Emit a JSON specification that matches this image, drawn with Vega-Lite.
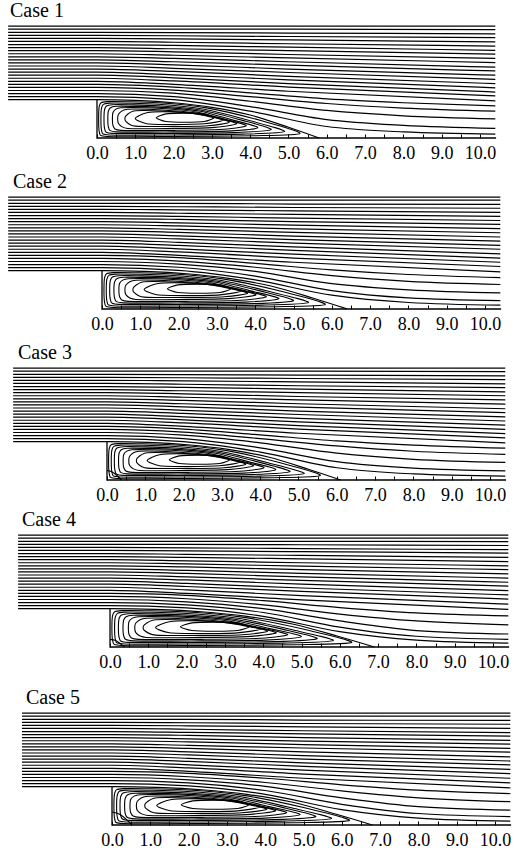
{
"$schema":"https://vega.github.io/schema/vega-lite/v6.json",
"padding":{"left":5,"top":0,"right":0,"bottom":0},
"background":"white",
"config":{"view":{"stroke":null},"concat":{"spacing":0},
"axis":{"domain":false,"grid":false,"tickSize":4,"tickColor":"#000","tickWidth":1,"labelFont":"Liberation Serif","labelFontSize":18,"labelColor":"#000","labelPadding":6,"labelOverlap":false,"labelFlush":false,"title":null},
"title":{"anchor":"start","font":"Liberation Serif","fontSize":20,"fontWeight":"normal","color":"#000","offset":3}},
"datasets":{
"w":[{"x":0,"y":1},{"x":0,"y":0},{"x":10.42,"y":0}],
"u1":[
{"g":0,"x":-2.32,"y":1},{"g":0,"x":0,"y":1},{"g":0,"x":1,"y":0.98},{"g":0,"x":2,"y":0.92},{"g":0,"x":3,"y":0.8},{"g":0,"x":4,"y":0.6},{"g":0,"x":5,"y":0.28},{"g":0,"x":5.8,"y":0},
{"g":1,"x":-2.32,"y":1.08},{"g":1,"x":0,"y":1.08},{"g":1,"x":2,"y":1.0},{"g":1,"x":4,"y":0.7},{"g":1,"x":6,"y":0.3},{"g":1,"x":8,"y":0.16},{"g":1,"x":10.4,"y":0.1},
{"g":2,"x":-2.32,"y":1.16},{"g":2,"x":0,"y":1.16},{"g":2,"x":2,"y":1.08},{"g":2,"x":4,"y":0.82},{"g":2,"x":6,"y":0.48},{"g":2,"x":8,"y":0.33},{"g":2,"x":10.4,"y":0.25},
{"g":3,"x":-2.32,"y":1.24},{"g":3,"x":0,"y":1.24},{"g":3,"x":2,"y":1.17},{"g":3,"x":4,"y":0.96},{"g":3,"x":6,"y":0.72},{"g":3,"x":8,"y":0.58},{"g":3,"x":10.4,"y":0.5},
{"g":4,"x":-2.32,"y":1.32},{"g":4,"x":0,"y":1.32},{"g":4,"x":2,"y":1.25},{"g":4,"x":4,"y":1.08},{"g":4,"x":6,"y":0.9},{"g":4,"x":8,"y":0.78},{"g":4,"x":10.4,"y":0.7},
{"g":5,"x":-2.32,"y":1.4},{"g":5,"x":0,"y":1.4},{"g":5,"x":2,"y":1.33},{"g":5,"x":4,"y":1.18},{"g":5,"x":6,"y":1.02},{"g":5,"x":8,"y":0.92},{"g":5,"x":10.4,"y":0.84},
{"g":6,"x":-2.32,"y":1.48},{"g":6,"x":0,"y":1.48},{"g":6,"x":2,"y":1.4},{"g":6,"x":5,"y":1.22},{"g":6,"x":10.4,"y":0.97},
{"g":7,"x":-2.32,"y":1.56},{"g":7,"x":0,"y":1.56},{"g":7,"x":2,"y":1.49},{"g":7,"x":5,"y":1.33},{"g":7,"x":10.4,"y":1.1},
{"g":8,"x":-2.32,"y":1.64},{"g":8,"x":0,"y":1.64},{"g":8,"x":2,"y":1.57},{"g":8,"x":5,"y":1.42},{"g":8,"x":10.4,"y":1.2},
{"g":9,"x":-2.32,"y":1.72},{"g":9,"x":0,"y":1.72},{"g":9,"x":2,"y":1.65},{"g":9,"x":5,"y":1.52},{"g":9,"x":10.4,"y":1.31},
{"g":10,"x":-2.32,"y":1.8},{"g":10,"x":0,"y":1.8},{"g":10,"x":2,"y":1.74},{"g":10,"x":5,"y":1.61},{"g":10,"x":10.4,"y":1.42},
{"g":11,"x":-2.32,"y":1.88},{"g":11,"x":0,"y":1.88},{"g":11,"x":2,"y":1.82},{"g":11,"x":5,"y":1.71},{"g":11,"x":10.4,"y":1.53},
{"g":12,"x":-2.32,"y":1.96},{"g":12,"x":0,"y":1.96},{"g":12,"x":2,"y":1.91},{"g":12,"x":5,"y":1.8},{"g":12,"x":10.4,"y":1.64},
{"g":13,"x":-2.32,"y":2.04},{"g":13,"x":0,"y":2.04},{"g":13,"x":2,"y":1.99},{"g":13,"x":5,"y":1.9},{"g":13,"x":10.4,"y":1.75},
{"g":14,"x":-2.32,"y":2.12},{"g":14,"x":0,"y":2.12},{"g":14,"x":2,"y":2.08},{"g":14,"x":5,"y":1.99},{"g":14,"x":10.4,"y":1.85},
{"g":15,"x":-2.32,"y":2.2},{"g":15,"x":0,"y":2.2},{"g":15,"x":2,"y":2.16},{"g":15,"x":5,"y":2.09},{"g":15,"x":10.4,"y":1.97},
{"g":16,"x":-2.32,"y":2.28},{"g":16,"x":0,"y":2.28},{"g":16,"x":2,"y":2.25},{"g":16,"x":5,"y":2.18},{"g":16,"x":10.4,"y":2.08},
{"g":17,"x":-2.32,"y":2.36},{"g":17,"x":0,"y":2.36},{"g":17,"x":2,"y":2.33},{"g":17,"x":5,"y":2.28},{"g":17,"x":10.4,"y":2.19},
{"g":18,"x":-2.32,"y":2.44},{"g":18,"x":0,"y":2.44},{"g":18,"x":2,"y":2.42},{"g":18,"x":5,"y":2.37},{"g":18,"x":10.4,"y":2.29},
{"g":19,"x":-2.32,"y":2.52},{"g":19,"x":0,"y":2.52},{"g":19,"x":2,"y":2.5},{"g":19,"x":5,"y":2.46},{"g":19,"x":10.4,"y":2.4},
{"g":20,"x":-2.32,"y":2.6},{"g":20,"x":0,"y":2.6},{"g":20,"x":2,"y":2.59},{"g":20,"x":5,"y":2.56},{"g":20,"x":10.4,"y":2.51},
{"g":21,"x":-2.32,"y":2.68},{"g":21,"x":0,"y":2.68},{"g":21,"x":2,"y":2.67},{"g":21,"x":5,"y":2.65},{"g":21,"x":10.4,"y":2.62},
{"g":22,"x":-2.32,"y":2.76},{"g":22,"x":0,"y":2.76},{"g":22,"x":2,"y":2.75},{"g":22,"x":5,"y":2.74},{"g":22,"x":10.4,"y":2.72},
{"g":23,"x":-2.32,"y":2.84},{"g":23,"x":0,"y":2.84},{"g":23,"x":2,"y":2.84},{"g":23,"x":5,"y":2.84},{"g":23,"x":10.4,"y":2.83},
{"g":24,"x":-2.32,"y":2.92},{"g":24,"x":0,"y":2.92},{"g":24,"x":2,"y":2.92},{"g":24,"x":5,"y":2.92},{"g":24,"x":10.4,"y":2.92}
],
"u2":[
{"g":0,"x":-2.45,"y":1},{"g":0,"x":0,"y":1},{"g":0,"x":1.1,"y":0.98},{"g":0,"x":2.21,"y":0.92},{"g":0,"x":3.31,"y":0.8},{"g":0,"x":4.41,"y":0.6},{"g":0,"x":5.52,"y":0.28},{"g":0,"x":6.4,"y":0},
{"g":1,"x":-2.45,"y":1.08},{"g":1,"x":0,"y":1.08},{"g":1,"x":2,"y":1.01},{"g":1,"x":4,"y":0.76},{"g":1,"x":6,"y":0.36},{"g":1,"x":8,"y":0.17},{"g":1,"x":10.4,"y":0.1},
{"g":2,"x":-2.45,"y":1.16},{"g":2,"x":0,"y":1.16},{"g":2,"x":2,"y":1.09},{"g":2,"x":4,"y":0.86},{"g":2,"x":6,"y":0.48},{"g":2,"x":8,"y":0.29},{"g":2,"x":10.4,"y":0.22},
{"g":3,"x":-2.45,"y":1.24},{"g":3,"x":0,"y":1.24},{"g":3,"x":2,"y":1.17},{"g":3,"x":4,"y":0.98},{"g":3,"x":6,"y":0.66},{"g":3,"x":8,"y":0.5},{"g":3,"x":10.4,"y":0.42},
{"g":4,"x":-2.45,"y":1.32},{"g":4,"x":0,"y":1.32},{"g":4,"x":2,"y":1.25},{"g":4,"x":4,"y":1.09},{"g":4,"x":6,"y":0.87},{"g":4,"x":8,"y":0.72},{"g":4,"x":10.4,"y":0.64},
{"g":5,"x":-2.45,"y":1.4},{"g":5,"x":0,"y":1.4},{"g":5,"x":2,"y":1.34},{"g":5,"x":4,"y":1.19},{"g":5,"x":6,"y":1.02},{"g":5,"x":8,"y":0.9},{"g":5,"x":10.4,"y":0.82},
{"g":6,"x":-2.45,"y":1.48},{"g":6,"x":0,"y":1.48},{"g":6,"x":2,"y":1.4},{"g":6,"x":5,"y":1.22},{"g":6,"x":10.4,"y":0.97},
{"g":7,"x":-2.45,"y":1.56},{"g":7,"x":0,"y":1.56},{"g":7,"x":2,"y":1.49},{"g":7,"x":5,"y":1.33},{"g":7,"x":10.4,"y":1.11},
{"g":8,"x":-2.45,"y":1.64},{"g":8,"x":0,"y":1.64},{"g":8,"x":2,"y":1.57},{"g":8,"x":5,"y":1.43},{"g":8,"x":10.4,"y":1.22},
{"g":9,"x":-2.45,"y":1.72},{"g":9,"x":0,"y":1.72},{"g":9,"x":2,"y":1.66},{"g":9,"x":5,"y":1.53},{"g":9,"x":10.4,"y":1.33},
{"g":10,"x":-2.45,"y":1.8},{"g":10,"x":0,"y":1.8},{"g":10,"x":2,"y":1.74},{"g":10,"x":5,"y":1.62},{"g":10,"x":10.4,"y":1.44},
{"g":11,"x":-2.45,"y":1.88},{"g":11,"x":0,"y":1.88},{"g":11,"x":2,"y":1.83},{"g":11,"x":5,"y":1.72},{"g":11,"x":10.4,"y":1.56},
{"g":12,"x":-2.45,"y":1.96},{"g":12,"x":0,"y":1.96},{"g":12,"x":2,"y":1.91},{"g":12,"x":5,"y":1.81},{"g":12,"x":10.4,"y":1.66},
{"g":13,"x":-2.45,"y":2.04},{"g":13,"x":0,"y":2.04},{"g":13,"x":2,"y":2.0},{"g":13,"x":5,"y":1.9},{"g":13,"x":10.4,"y":1.77},
{"g":14,"x":-2.45,"y":2.12},{"g":14,"x":0,"y":2.12},{"g":14,"x":2,"y":2.08},{"g":14,"x":5,"y":2.0},{"g":14,"x":10.4,"y":1.88},
{"g":15,"x":-2.45,"y":2.2},{"g":15,"x":0,"y":2.2},{"g":15,"x":2,"y":2.17},{"g":15,"x":5,"y":2.09},{"g":15,"x":10.4,"y":1.99},
{"g":16,"x":-2.45,"y":2.28},{"g":16,"x":0,"y":2.28},{"g":16,"x":2,"y":2.25},{"g":16,"x":5,"y":2.19},{"g":16,"x":10.4,"y":2.1},
{"g":17,"x":-2.45,"y":2.36},{"g":17,"x":0,"y":2.36},{"g":17,"x":2,"y":2.34},{"g":17,"x":5,"y":2.28},{"g":17,"x":10.4,"y":2.21},
{"g":18,"x":-2.45,"y":2.44},{"g":18,"x":0,"y":2.44},{"g":18,"x":2,"y":2.42},{"g":18,"x":5,"y":2.37},{"g":18,"x":10.4,"y":2.31},
{"g":19,"x":-2.45,"y":2.52},{"g":19,"x":0,"y":2.52},{"g":19,"x":2,"y":2.5},{"g":19,"x":5,"y":2.47},{"g":19,"x":10.4,"y":2.42},
{"g":20,"x":-2.45,"y":2.6},{"g":20,"x":0,"y":2.6},{"g":20,"x":2,"y":2.59},{"g":20,"x":5,"y":2.56},{"g":20,"x":10.4,"y":2.52},
{"g":21,"x":-2.45,"y":2.68},{"g":21,"x":0,"y":2.68},{"g":21,"x":2,"y":2.67},{"g":21,"x":5,"y":2.65},{"g":21,"x":10.4,"y":2.63},
{"g":22,"x":-2.45,"y":2.76},{"g":22,"x":0,"y":2.76},{"g":22,"x":2,"y":2.76},{"g":22,"x":5,"y":2.74},{"g":22,"x":10.4,"y":2.73},
{"g":23,"x":-2.45,"y":2.84},{"g":23,"x":0,"y":2.84},{"g":23,"x":2,"y":2.84},{"g":23,"x":5,"y":2.84},{"g":23,"x":10.4,"y":2.84},
{"g":24,"x":-2.45,"y":2.92},{"g":24,"x":0,"y":2.92},{"g":24,"x":2,"y":2.92},{"g":24,"x":5,"y":2.92},{"g":24,"x":10.4,"y":2.92}
],
"u3":[
{"g":0,"x":-2.45,"y":1},{"g":0,"x":0,"y":1},{"g":0,"x":1.05,"y":0.98},{"g":0,"x":2.1,"y":0.92},{"g":0,"x":3.16,"y":0.8},{"g":0,"x":4.21,"y":0.6},{"g":0,"x":5.26,"y":0.28},{"g":0,"x":6.1,"y":0},
{"g":1,"x":-2.45,"y":1.08},{"g":1,"x":0,"y":1.08},{"g":1,"x":2,"y":1.0},{"g":1,"x":4,"y":0.73},{"g":1,"x":6,"y":0.32},{"g":1,"x":8,"y":0.16},{"g":1,"x":10.4,"y":0.1},
{"g":2,"x":-2.45,"y":1.16},{"g":2,"x":0,"y":1.16},{"g":2,"x":2,"y":1.08},{"g":2,"x":4,"y":0.84},{"g":2,"x":6,"y":0.48},{"g":2,"x":8,"y":0.31},{"g":2,"x":10.4,"y":0.24},
{"g":3,"x":-2.45,"y":1.24},{"g":3,"x":0,"y":1.24},{"g":3,"x":2,"y":1.17},{"g":3,"x":4,"y":0.97},{"g":3,"x":6,"y":0.7},{"g":3,"x":8,"y":0.54},{"g":3,"x":10.4,"y":0.46},
{"g":4,"x":-2.45,"y":1.32},{"g":4,"x":0,"y":1.32},{"g":4,"x":2,"y":1.25},{"g":4,"x":4,"y":1.08},{"g":4,"x":6,"y":0.89},{"g":4,"x":8,"y":0.75},{"g":4,"x":10.4,"y":0.67},
{"g":5,"x":-2.45,"y":1.4},{"g":5,"x":0,"y":1.4},{"g":5,"x":2,"y":1.33},{"g":5,"x":4,"y":1.18},{"g":5,"x":6,"y":1.02},{"g":5,"x":8,"y":0.91},{"g":5,"x":10.4,"y":0.83},
{"g":6,"x":-2.45,"y":1.48},{"g":6,"x":0,"y":1.48},{"g":6,"x":2,"y":1.4},{"g":6,"x":5,"y":1.22},{"g":6,"x":10.4,"y":0.97},
{"g":7,"x":-2.45,"y":1.56},{"g":7,"x":0,"y":1.56},{"g":7,"x":2,"y":1.49},{"g":7,"x":5,"y":1.33},{"g":7,"x":10.4,"y":1.1},
{"g":8,"x":-2.45,"y":1.64},{"g":8,"x":0,"y":1.64},{"g":8,"x":2,"y":1.57},{"g":8,"x":5,"y":1.42},{"g":8,"x":10.4,"y":1.21},
{"g":9,"x":-2.45,"y":1.72},{"g":9,"x":0,"y":1.72},{"g":9,"x":2,"y":1.65},{"g":9,"x":5,"y":1.52},{"g":9,"x":10.4,"y":1.32},
{"g":10,"x":-2.45,"y":1.8},{"g":10,"x":0,"y":1.8},{"g":10,"x":2,"y":1.74},{"g":10,"x":5,"y":1.61},{"g":10,"x":10.4,"y":1.43},
{"g":11,"x":-2.45,"y":1.88},{"g":11,"x":0,"y":1.88},{"g":11,"x":2,"y":1.82},{"g":11,"x":5,"y":1.71},{"g":11,"x":10.4,"y":1.54},
{"g":12,"x":-2.45,"y":1.96},{"g":12,"x":0,"y":1.96},{"g":12,"x":2,"y":1.91},{"g":12,"x":5,"y":1.8},{"g":12,"x":10.4,"y":1.65},
{"g":13,"x":-2.45,"y":2.04},{"g":13,"x":0,"y":2.04},{"g":13,"x":2,"y":1.99},{"g":13,"x":5,"y":1.9},{"g":13,"x":10.4,"y":1.76},
{"g":14,"x":-2.45,"y":2.12},{"g":14,"x":0,"y":2.12},{"g":14,"x":2,"y":2.08},{"g":14,"x":5,"y":1.99},{"g":14,"x":10.4,"y":1.86},
{"g":15,"x":-2.45,"y":2.2},{"g":15,"x":0,"y":2.2},{"g":15,"x":2,"y":2.16},{"g":15,"x":5,"y":2.09},{"g":15,"x":10.4,"y":1.98},
{"g":16,"x":-2.45,"y":2.28},{"g":16,"x":0,"y":2.28},{"g":16,"x":2,"y":2.25},{"g":16,"x":5,"y":2.18},{"g":16,"x":10.4,"y":2.09},
{"g":17,"x":-2.45,"y":2.36},{"g":17,"x":0,"y":2.36},{"g":17,"x":2,"y":2.33},{"g":17,"x":5,"y":2.28},{"g":17,"x":10.4,"y":2.2},
{"g":18,"x":-2.45,"y":2.44},{"g":18,"x":0,"y":2.44},{"g":18,"x":2,"y":2.42},{"g":18,"x":5,"y":2.37},{"g":18,"x":10.4,"y":2.3},
{"g":19,"x":-2.45,"y":2.52},{"g":19,"x":0,"y":2.52},{"g":19,"x":2,"y":2.5},{"g":19,"x":5,"y":2.46},{"g":19,"x":10.4,"y":2.41},
{"g":20,"x":-2.45,"y":2.6},{"g":20,"x":0,"y":2.6},{"g":20,"x":2,"y":2.59},{"g":20,"x":5,"y":2.56},{"g":20,"x":10.4,"y":2.51},
{"g":21,"x":-2.45,"y":2.68},{"g":21,"x":0,"y":2.68},{"g":21,"x":2,"y":2.67},{"g":21,"x":5,"y":2.65},{"g":21,"x":10.4,"y":2.62},
{"g":22,"x":-2.45,"y":2.76},{"g":22,"x":0,"y":2.76},{"g":22,"x":2,"y":2.75},{"g":22,"x":5,"y":2.74},{"g":22,"x":10.4,"y":2.72},
{"g":23,"x":-2.45,"y":2.84},{"g":23,"x":0,"y":2.84},{"g":23,"x":2,"y":2.84},{"g":23,"x":5,"y":2.84},{"g":23,"x":10.4,"y":2.83},
{"g":24,"x":-2.45,"y":2.92},{"g":24,"x":0,"y":2.92},{"g":24,"x":2,"y":2.92},{"g":24,"x":5,"y":2.92},{"g":24,"x":10.4,"y":2.92},
{"g":30,"x":0,"y":0.25},{"g":30,"x":0.15,"y":0.2},{"g":30,"x":0.3,"y":0.08},{"g":30,"x":0.38,"y":0}
],
"u4":[
{"g":0,"x":-2.4,"y":1},{"g":0,"x":0,"y":1},{"g":0,"x":1.19,"y":0.98},{"g":0,"x":2.38,"y":0.92},{"g":0,"x":3.57,"y":0.8},{"g":0,"x":4.76,"y":0.6},{"g":0,"x":5.95,"y":0.28},{"g":0,"x":6.9,"y":0},
{"g":1,"x":-2.4,"y":1.08},{"g":1,"x":0,"y":1.08},{"g":1,"x":2,"y":1.02},{"g":1,"x":4,"y":0.8},{"g":1,"x":6,"y":0.4},{"g":1,"x":8,"y":0.18},{"g":1,"x":10.4,"y":0.1},
{"g":2,"x":-2.4,"y":1.16},{"g":2,"x":0,"y":1.16},{"g":2,"x":2,"y":1.1},{"g":2,"x":4,"y":0.9},{"g":2,"x":6,"y":0.52},{"g":2,"x":8,"y":0.28},{"g":2,"x":10.4,"y":0.2},
{"g":3,"x":-2.4,"y":1.24},{"g":3,"x":0,"y":1.24},{"g":3,"x":2,"y":1.18},{"g":3,"x":4,"y":1.0},{"g":3,"x":6,"y":0.68},{"g":3,"x":8,"y":0.43},{"g":3,"x":10.4,"y":0.34},
{"g":4,"x":-2.4,"y":1.32},{"g":4,"x":0,"y":1.32},{"g":4,"x":2,"y":1.26},{"g":4,"x":4,"y":1.1},{"g":4,"x":6,"y":0.86},{"g":4,"x":8,"y":0.68},{"g":4,"x":10.4,"y":0.58},
{"g":5,"x":-2.4,"y":1.4},{"g":5,"x":0,"y":1.4},{"g":5,"x":2,"y":1.35},{"g":5,"x":4,"y":1.21},{"g":5,"x":6,"y":1.03},{"g":5,"x":8,"y":0.89},{"g":5,"x":10.4,"y":0.81},
{"g":6,"x":-2.4,"y":1.48},{"g":6,"x":0,"y":1.48},{"g":6,"x":2,"y":1.4},{"g":6,"x":5,"y":1.23},{"g":6,"x":10.4,"y":0.98},
{"g":7,"x":-2.4,"y":1.56},{"g":7,"x":0,"y":1.56},{"g":7,"x":2,"y":1.49},{"g":7,"x":5,"y":1.34},{"g":7,"x":10.4,"y":1.12},
{"g":8,"x":-2.4,"y":1.64},{"g":8,"x":0,"y":1.64},{"g":8,"x":2,"y":1.58},{"g":8,"x":5,"y":1.45},{"g":8,"x":10.4,"y":1.25},
{"g":9,"x":-2.4,"y":1.72},{"g":9,"x":0,"y":1.72},{"g":9,"x":2,"y":1.66},{"g":9,"x":5,"y":1.54},{"g":9,"x":10.4,"y":1.36},
{"g":10,"x":-2.4,"y":1.8},{"g":10,"x":0,"y":1.8},{"g":10,"x":2,"y":1.75},{"g":10,"x":5,"y":1.64},{"g":10,"x":10.4,"y":1.47},
{"g":11,"x":-2.4,"y":1.88},{"g":11,"x":0,"y":1.88},{"g":11,"x":2,"y":1.83},{"g":11,"x":5,"y":1.74},{"g":11,"x":10.4,"y":1.59},
{"g":12,"x":-2.4,"y":1.96},{"g":12,"x":0,"y":1.96},{"g":12,"x":2,"y":1.92},{"g":12,"x":5,"y":1.83},{"g":12,"x":10.4,"y":1.69},
{"g":13,"x":-2.4,"y":2.04},{"g":13,"x":0,"y":2.04},{"g":13,"x":2,"y":2.0},{"g":13,"x":5,"y":1.92},{"g":13,"x":10.4,"y":1.8},
{"g":14,"x":-2.4,"y":2.12},{"g":14,"x":0,"y":2.12},{"g":14,"x":2,"y":2.09},{"g":14,"x":5,"y":2.02},{"g":14,"x":10.4,"y":1.91},
{"g":15,"x":-2.4,"y":2.2},{"g":15,"x":0,"y":2.2},{"g":15,"x":2,"y":2.17},{"g":15,"x":5,"y":2.11},{"g":15,"x":10.4,"y":2.02},
{"g":16,"x":-2.4,"y":2.28},{"g":16,"x":0,"y":2.28},{"g":16,"x":2,"y":2.25},{"g":16,"x":5,"y":2.2},{"g":16,"x":10.4,"y":2.12},
{"g":17,"x":-2.4,"y":2.36},{"g":17,"x":0,"y":2.36},{"g":17,"x":2,"y":2.34},{"g":17,"x":5,"y":2.3},{"g":17,"x":10.4,"y":2.23},
{"g":18,"x":-2.4,"y":2.44},{"g":18,"x":0,"y":2.44},{"g":18,"x":2,"y":2.42},{"g":18,"x":5,"y":2.39},{"g":18,"x":10.4,"y":2.34},
{"g":19,"x":-2.4,"y":2.52},{"g":19,"x":0,"y":2.52},{"g":19,"x":2,"y":2.51},{"g":19,"x":5,"y":2.49},{"g":19,"x":10.4,"y":2.45},
{"g":20,"x":-2.4,"y":2.6},{"g":20,"x":0,"y":2.6},{"g":20,"x":2,"y":2.59},{"g":20,"x":5,"y":2.57},{"g":20,"x":10.4,"y":2.54},
{"g":21,"x":-2.4,"y":2.68},{"g":21,"x":0,"y":2.68},{"g":21,"x":2,"y":2.68},{"g":21,"x":5,"y":2.67},{"g":21,"x":10.4,"y":2.65},
{"g":22,"x":-2.4,"y":2.76},{"g":22,"x":0,"y":2.76},{"g":22,"x":2,"y":2.76},{"g":22,"x":5,"y":2.76},{"g":22,"x":10.4,"y":2.75},
{"g":23,"x":-2.4,"y":2.84},{"g":23,"x":0,"y":2.84},{"g":23,"x":2,"y":2.84},{"g":23,"x":5,"y":2.84},{"g":23,"x":10.4,"y":2.84},
{"g":24,"x":-2.4,"y":2.92},{"g":24,"x":0,"y":2.92},{"g":24,"x":2,"y":2.92},{"g":24,"x":5,"y":2.92},{"g":24,"x":10.4,"y":2.92},
{"g":30,"x":0,"y":0.2},{"g":30,"x":0.15,"y":0.17},{"g":30,"x":0.28,"y":0.08},{"g":30,"x":0.38,"y":0}
],
"u5":[
{"g":0,"x":-2.35,"y":1},{"g":0,"x":0,"y":1},{"g":0,"x":1.17,"y":0.98},{"g":0,"x":2.34,"y":0.92},{"g":0,"x":3.52,"y":0.8},{"g":0,"x":4.69,"y":0.6},{"g":0,"x":5.86,"y":0.28},{"g":0,"x":6.8,"y":0},
{"g":1,"x":-2.35,"y":1.08},{"g":1,"x":0,"y":1.08},{"g":1,"x":2,"y":1.02},{"g":1,"x":4,"y":0.8},{"g":1,"x":6,"y":0.4},{"g":1,"x":8,"y":0.18},{"g":1,"x":10.4,"y":0.1},
{"g":2,"x":-2.35,"y":1.16},{"g":2,"x":0,"y":1.16},{"g":2,"x":2,"y":1.1},{"g":2,"x":4,"y":0.9},{"g":2,"x":6,"y":0.54},{"g":2,"x":8,"y":0.3},{"g":2,"x":10.4,"y":0.22},
{"g":3,"x":-2.35,"y":1.24},{"g":3,"x":0,"y":1.24},{"g":3,"x":2,"y":1.18},{"g":3,"x":4,"y":1.01},{"g":3,"x":6,"y":0.71},{"g":3,"x":8,"y":0.48},{"g":3,"x":10.4,"y":0.39},
{"g":4,"x":-2.35,"y":1.32},{"g":4,"x":0,"y":1.32},{"g":4,"x":2,"y":1.26},{"g":4,"x":4,"y":1.11},{"g":4,"x":6,"y":0.89},{"g":4,"x":8,"y":0.71},{"g":4,"x":10.4,"y":0.61},
{"g":5,"x":-2.35,"y":1.4},{"g":5,"x":0,"y":1.4},{"g":5,"x":2,"y":1.35},{"g":5,"x":4,"y":1.22},{"g":5,"x":6,"y":1.05},{"g":5,"x":8,"y":0.91},{"g":5,"x":10.4,"y":0.82},
{"g":6,"x":-2.35,"y":1.48},{"g":6,"x":0,"y":1.48},{"g":6,"x":2,"y":1.4},{"g":6,"x":5,"y":1.22},{"g":6,"x":10.4,"y":0.97},
{"g":7,"x":-2.35,"y":1.56},{"g":7,"x":0,"y":1.56},{"g":7,"x":2,"y":1.49},{"g":7,"x":5,"y":1.33},{"g":7,"x":10.4,"y":1.1},
{"g":8,"x":-2.35,"y":1.64},{"g":8,"x":0,"y":1.64},{"g":8,"x":2,"y":1.57},{"g":8,"x":5,"y":1.43},{"g":8,"x":10.4,"y":1.22},
{"g":9,"x":-2.35,"y":1.72},{"g":9,"x":0,"y":1.72},{"g":9,"x":2,"y":1.66},{"g":9,"x":5,"y":1.53},{"g":9,"x":10.4,"y":1.34},
{"g":10,"x":-2.35,"y":1.8},{"g":10,"x":0,"y":1.8},{"g":10,"x":2,"y":1.74},{"g":10,"x":5,"y":1.62},{"g":10,"x":10.4,"y":1.45},
{"g":11,"x":-2.35,"y":1.88},{"g":11,"x":0,"y":1.88},{"g":11,"x":2,"y":1.83},{"g":11,"x":5,"y":1.72},{"g":11,"x":10.4,"y":1.57},
{"g":12,"x":-2.35,"y":1.96},{"g":12,"x":0,"y":1.96},{"g":12,"x":2,"y":1.91},{"g":12,"x":5,"y":1.81},{"g":12,"x":10.4,"y":1.67},
{"g":13,"x":-2.35,"y":2.04},{"g":13,"x":0,"y":2.04},{"g":13,"x":2,"y":2.0},{"g":13,"x":5,"y":1.91},{"g":13,"x":10.4,"y":1.78},
{"g":14,"x":-2.35,"y":2.12},{"g":14,"x":0,"y":2.12},{"g":14,"x":2,"y":2.08},{"g":14,"x":5,"y":2.01},{"g":14,"x":10.4,"y":1.9},
{"g":15,"x":-2.35,"y":2.2},{"g":15,"x":0,"y":2.2},{"g":15,"x":2,"y":2.17},{"g":15,"x":5,"y":2.1},{"g":15,"x":10.4,"y":2.0},
{"g":16,"x":-2.35,"y":2.28},{"g":16,"x":0,"y":2.28},{"g":16,"x":2,"y":2.25},{"g":16,"x":5,"y":2.19},{"g":16,"x":10.4,"y":2.11},
{"g":17,"x":-2.35,"y":2.36},{"g":17,"x":0,"y":2.36},{"g":17,"x":2,"y":2.34},{"g":17,"x":5,"y":2.28},{"g":17,"x":10.4,"y":2.21},
{"g":18,"x":-2.35,"y":2.44},{"g":18,"x":0,"y":2.44},{"g":18,"x":2,"y":2.42},{"g":18,"x":5,"y":2.38},{"g":18,"x":10.4,"y":2.32},
{"g":19,"x":-2.35,"y":2.52},{"g":19,"x":0,"y":2.52},{"g":19,"x":2,"y":2.5},{"g":19,"x":5,"y":2.46},{"g":19,"x":10.4,"y":2.41},
{"g":20,"x":-2.35,"y":2.6},{"g":20,"x":0,"y":2.6},{"g":20,"x":2,"y":2.59},{"g":20,"x":5,"y":2.56},{"g":20,"x":10.4,"y":2.52},
{"g":21,"x":-2.35,"y":2.68},{"g":21,"x":0,"y":2.68},{"g":21,"x":2,"y":2.67},{"g":21,"x":5,"y":2.65},{"g":21,"x":10.4,"y":2.63},
{"g":22,"x":-2.35,"y":2.76},{"g":22,"x":0,"y":2.76},{"g":22,"x":2,"y":2.76},{"g":22,"x":5,"y":2.74},{"g":22,"x":10.4,"y":2.73},
{"g":23,"x":-2.35,"y":2.84},{"g":23,"x":0,"y":2.84},{"g":23,"x":2,"y":2.84},{"g":23,"x":5,"y":2.84},{"g":23,"x":10.4,"y":2.84},
{"g":24,"x":-2.35,"y":2.92},{"g":24,"x":0,"y":2.92},{"g":24,"x":2,"y":2.92},{"g":24,"x":5,"y":2.92},{"g":24,"x":10.4,"y":2.92},
{"g":30,"x":0,"y":0.34},{"g":30,"x":0.2,"y":0.28},{"g":30,"x":0.38,"y":0.14},{"g":30,"x":0.52,"y":0}
],
"v1":[
{"g":1,"x":0.06,"y":0.16},{"g":1,"x":0.06,"y":0.83},{"g":1,"x":0.26,"y":0.95},{"g":1,"x":1.6,"y":0.92},{"g":1,"x":2.9,"y":0.78},{"g":1,"x":4.3,"y":0.45},{"g":1,"x":5.3,"y":0.12},{"g":1,"x":4.1,"y":0.06},{"g":1,"x":2.0,"y":0.04},{"g":1,"x":0.26,"y":0.04},
{"g":2,"x":0.12,"y":0.2},{"g":2,"x":0.12,"y":0.79},{"g":2,"x":0.32,"y":0.91},{"g":2,"x":1.6,"y":0.88},{"g":2,"x":2.8,"y":0.75},{"g":2,"x":4.0,"y":0.45},{"g":2,"x":4.9,"y":0.17},{"g":2,"x":3.8,"y":0.1},{"g":2,"x":2.0,"y":0.08},{"g":2,"x":0.32,"y":0.08},
{"g":3,"x":0.2,"y":0.24},{"g":3,"x":0.2,"y":0.75},{"g":3,"x":0.4,"y":0.87},{"g":3,"x":1.6,"y":0.84},{"g":3,"x":2.7,"y":0.73},{"g":3,"x":3.8,"y":0.46},{"g":3,"x":4.55,"y":0.22},{"g":3,"x":3.6,"y":0.14},{"g":3,"x":2.0,"y":0.12},{"g":3,"x":0.4,"y":0.12},
{"g":4,"x":0.3,"y":0.28},{"g":4,"x":0.3,"y":0.71},{"g":4,"x":0.5,"y":0.83},{"g":4,"x":1.7,"y":0.8},{"g":4,"x":2.7,"y":0.7},{"g":4,"x":3.5,"y":0.48},{"g":4,"x":4.2,"y":0.27},{"g":4,"x":3.4,"y":0.18},{"g":4,"x":2.0,"y":0.16},{"g":4,"x":0.5,"y":0.16},
{"g":5,"x":0.42,"y":0.32},{"g":5,"x":0.42,"y":0.67},{"g":5,"x":0.62,"y":0.79},{"g":5,"x":1.7,"y":0.77},{"g":5,"x":2.6,"y":0.68},{"g":5,"x":3.3,"y":0.5},{"g":5,"x":3.9,"y":0.32},{"g":5,"x":3.2,"y":0.22},{"g":5,"x":2.0,"y":0.2},{"g":5,"x":0.62,"y":0.2},
{"g":6,"x":0.56,"y":0.38},{"g":6,"x":0.56,"y":0.62},{"g":6,"x":0.8,"y":0.75},{"g":6,"x":1.7,"y":0.73},{"g":6,"x":2.6,"y":0.65},{"g":6,"x":3.15,"y":0.52},{"g":6,"x":3.65,"y":0.37},{"g":6,"x":3.0,"y":0.27},{"g":6,"x":2.0,"y":0.25},{"g":6,"x":0.8,"y":0.25},
{"g":7,"x":0.75,"y":0.44},{"g":7,"x":0.75,"y":0.57},{"g":7,"x":1.0,"y":0.71},{"g":7,"x":1.8,"y":0.7},{"g":7,"x":2.6,"y":0.63},{"g":7,"x":3.45,"y":0.42},{"g":7,"x":2.9,"y":0.32},{"g":7,"x":2.0,"y":0.3},{"g":7,"x":1.0,"y":0.31},
{"g":8,"x":1.0,"y":0.51},{"g":8,"x":1.3,"y":0.66},{"g":8,"x":2.0,"y":0.68},{"g":8,"x":2.8,"y":0.6},{"g":8,"x":3.3,"y":0.47},{"g":8,"x":2.8,"y":0.37},{"g":8,"x":2.0,"y":0.35},{"g":8,"x":1.3,"y":0.37},
{"g":9,"x":1.55,"y":0.53},{"g":9,"x":1.8,"y":0.63},{"g":9,"x":2.3,"y":0.65},{"g":9,"x":2.8,"y":0.63},{"g":9,"x":3.05,"y":0.53},{"g":9,"x":2.8,"y":0.43},{"g":9,"x":2.3,"y":0.41},{"g":9,"x":1.8,"y":0.43}
],
"v2":[
{"g":1,"x":0.07,"y":0.16},{"g":1,"x":0.07,"y":0.83},{"g":1,"x":0.29,"y":0.95},{"g":1,"x":1.76,"y":0.92},{"g":1,"x":3.19,"y":0.78},{"g":1,"x":4.73,"y":0.45},{"g":1,"x":5.83,"y":0.12},{"g":1,"x":4.51,"y":0.06},{"g":1,"x":2.2,"y":0.04},{"g":1,"x":0.29,"y":0.04},
{"g":2,"x":0.13,"y":0.2},{"g":2,"x":0.13,"y":0.79},{"g":2,"x":0.35,"y":0.91},{"g":2,"x":1.76,"y":0.88},{"g":2,"x":3.08,"y":0.75},{"g":2,"x":4.4,"y":0.45},{"g":2,"x":5.39,"y":0.17},{"g":2,"x":4.18,"y":0.1},{"g":2,"x":2.2,"y":0.08},{"g":2,"x":0.35,"y":0.08},
{"g":3,"x":0.22,"y":0.24},{"g":3,"x":0.22,"y":0.75},{"g":3,"x":0.44,"y":0.87},{"g":3,"x":1.76,"y":0.84},{"g":3,"x":2.97,"y":0.73},{"g":3,"x":4.18,"y":0.46},{"g":3,"x":5.0,"y":0.22},{"g":3,"x":3.96,"y":0.14},{"g":3,"x":2.2,"y":0.12},{"g":3,"x":0.44,"y":0.12},
{"g":4,"x":0.33,"y":0.28},{"g":4,"x":0.33,"y":0.71},{"g":4,"x":0.55,"y":0.83},{"g":4,"x":1.87,"y":0.8},{"g":4,"x":2.97,"y":0.7},{"g":4,"x":3.85,"y":0.48},{"g":4,"x":4.62,"y":0.27},{"g":4,"x":3.74,"y":0.18},{"g":4,"x":2.2,"y":0.16},{"g":4,"x":0.55,"y":0.16},
{"g":5,"x":0.46,"y":0.32},{"g":5,"x":0.46,"y":0.67},{"g":5,"x":0.68,"y":0.79},{"g":5,"x":1.87,"y":0.77},{"g":5,"x":2.86,"y":0.68},{"g":5,"x":3.63,"y":0.5},{"g":5,"x":4.29,"y":0.32},{"g":5,"x":3.52,"y":0.22},{"g":5,"x":2.2,"y":0.2},{"g":5,"x":0.68,"y":0.2},
{"g":6,"x":0.62,"y":0.38},{"g":6,"x":0.62,"y":0.62},{"g":6,"x":0.88,"y":0.75},{"g":6,"x":1.87,"y":0.73},{"g":6,"x":2.86,"y":0.65},{"g":6,"x":3.47,"y":0.52},{"g":6,"x":4.02,"y":0.37},{"g":6,"x":3.3,"y":0.27},{"g":6,"x":2.2,"y":0.25},{"g":6,"x":0.88,"y":0.25},
{"g":7,"x":0.83,"y":0.44},{"g":7,"x":0.83,"y":0.57},{"g":7,"x":1.1,"y":0.71},{"g":7,"x":1.98,"y":0.7},{"g":7,"x":2.86,"y":0.63},{"g":7,"x":3.8,"y":0.42},{"g":7,"x":3.19,"y":0.32},{"g":7,"x":2.2,"y":0.3},{"g":7,"x":1.1,"y":0.31},
{"g":8,"x":1.1,"y":0.51},{"g":8,"x":1.43,"y":0.66},{"g":8,"x":2.2,"y":0.68},{"g":8,"x":3.08,"y":0.6},{"g":8,"x":3.63,"y":0.47},{"g":8,"x":3.08,"y":0.37},{"g":8,"x":2.2,"y":0.35},{"g":8,"x":1.43,"y":0.37},
{"g":9,"x":1.71,"y":0.53},{"g":9,"x":1.98,"y":0.63},{"g":9,"x":2.53,"y":0.65},{"g":9,"x":3.08,"y":0.63},{"g":9,"x":3.36,"y":0.53},{"g":9,"x":3.08,"y":0.43},{"g":9,"x":2.53,"y":0.41},{"g":9,"x":1.98,"y":0.43}
],
"v3":[
{"g":1,"x":0.06,"y":0.16},{"g":1,"x":0.06,"y":0.83},{"g":1,"x":0.27,"y":0.95},{"g":1,"x":1.68,"y":0.92},{"g":1,"x":3.05,"y":0.78},{"g":1,"x":4.52,"y":0.45},{"g":1,"x":5.57,"y":0.12},{"g":1,"x":4.31,"y":0.06},{"g":1,"x":2.1,"y":0.04},{"g":1,"x":0.27,"y":0.04},
{"g":2,"x":0.13,"y":0.2},{"g":2,"x":0.13,"y":0.79},{"g":2,"x":0.34,"y":0.91},{"g":2,"x":1.68,"y":0.88},{"g":2,"x":2.94,"y":0.75},{"g":2,"x":4.2,"y":0.45},{"g":2,"x":5.15,"y":0.17},{"g":2,"x":3.99,"y":0.1},{"g":2,"x":2.1,"y":0.08},{"g":2,"x":0.34,"y":0.08},
{"g":3,"x":0.21,"y":0.24},{"g":3,"x":0.21,"y":0.75},{"g":3,"x":0.42,"y":0.87},{"g":3,"x":1.68,"y":0.84},{"g":3,"x":2.84,"y":0.73},{"g":3,"x":3.99,"y":0.46},{"g":3,"x":4.78,"y":0.22},{"g":3,"x":3.78,"y":0.14},{"g":3,"x":2.1,"y":0.12},{"g":3,"x":0.42,"y":0.12},
{"g":4,"x":0.32,"y":0.28},{"g":4,"x":0.32,"y":0.71},{"g":4,"x":0.53,"y":0.83},{"g":4,"x":1.79,"y":0.8},{"g":4,"x":2.84,"y":0.7},{"g":4,"x":3.68,"y":0.48},{"g":4,"x":4.41,"y":0.27},{"g":4,"x":3.57,"y":0.18},{"g":4,"x":2.1,"y":0.16},{"g":4,"x":0.53,"y":0.16},
{"g":5,"x":0.44,"y":0.32},{"g":5,"x":0.44,"y":0.67},{"g":5,"x":0.65,"y":0.79},{"g":5,"x":1.79,"y":0.77},{"g":5,"x":2.73,"y":0.68},{"g":5,"x":3.47,"y":0.5},{"g":5,"x":4.1,"y":0.32},{"g":5,"x":3.36,"y":0.22},{"g":5,"x":2.1,"y":0.2},{"g":5,"x":0.65,"y":0.2},
{"g":6,"x":0.59,"y":0.38},{"g":6,"x":0.59,"y":0.62},{"g":6,"x":0.84,"y":0.75},{"g":6,"x":1.79,"y":0.73},{"g":6,"x":2.73,"y":0.65},{"g":6,"x":3.31,"y":0.52},{"g":6,"x":3.83,"y":0.37},{"g":6,"x":3.15,"y":0.27},{"g":6,"x":2.1,"y":0.25},{"g":6,"x":0.84,"y":0.25},
{"g":7,"x":0.79,"y":0.44},{"g":7,"x":0.79,"y":0.57},{"g":7,"x":1.05,"y":0.71},{"g":7,"x":1.89,"y":0.7},{"g":7,"x":2.73,"y":0.63},{"g":7,"x":3.62,"y":0.42},{"g":7,"x":3.05,"y":0.32},{"g":7,"x":2.1,"y":0.3},{"g":7,"x":1.05,"y":0.31},
{"g":8,"x":1.05,"y":0.51},{"g":8,"x":1.37,"y":0.66},{"g":8,"x":2.1,"y":0.68},{"g":8,"x":2.94,"y":0.6},{"g":8,"x":3.47,"y":0.47},{"g":8,"x":2.94,"y":0.37},{"g":8,"x":2.1,"y":0.35},{"g":8,"x":1.37,"y":0.37},
{"g":9,"x":1.63,"y":0.53},{"g":9,"x":1.89,"y":0.63},{"g":9,"x":2.42,"y":0.65},{"g":9,"x":2.94,"y":0.63},{"g":9,"x":3.2,"y":0.53},{"g":9,"x":2.94,"y":0.43},{"g":9,"x":2.42,"y":0.41},{"g":9,"x":1.89,"y":0.43}
],
"v4":[
{"g":1,"x":0.07,"y":0.16},{"g":1,"x":0.07,"y":0.83},{"g":1,"x":0.31,"y":0.95},{"g":1,"x":1.9,"y":0.92},{"g":1,"x":3.45,"y":0.78},{"g":1,"x":5.12,"y":0.45},{"g":1,"x":6.31,"y":0.12},{"g":1,"x":4.88,"y":0.06},{"g":1,"x":2.38,"y":0.04},{"g":1,"x":0.31,"y":0.04},
{"g":2,"x":0.14,"y":0.2},{"g":2,"x":0.14,"y":0.79},{"g":2,"x":0.38,"y":0.91},{"g":2,"x":1.9,"y":0.88},{"g":2,"x":3.33,"y":0.75},{"g":2,"x":4.76,"y":0.45},{"g":2,"x":5.83,"y":0.17},{"g":2,"x":4.52,"y":0.1},{"g":2,"x":2.38,"y":0.08},{"g":2,"x":0.38,"y":0.08},
{"g":3,"x":0.24,"y":0.24},{"g":3,"x":0.24,"y":0.75},{"g":3,"x":0.48,"y":0.87},{"g":3,"x":1.9,"y":0.84},{"g":3,"x":3.21,"y":0.73},{"g":3,"x":4.52,"y":0.46},{"g":3,"x":5.41,"y":0.22},{"g":3,"x":4.28,"y":0.14},{"g":3,"x":2.38,"y":0.12},{"g":3,"x":0.48,"y":0.12},
{"g":4,"x":0.36,"y":0.28},{"g":4,"x":0.36,"y":0.71},{"g":4,"x":0.6,"y":0.83},{"g":4,"x":2.02,"y":0.8},{"g":4,"x":3.21,"y":0.7},{"g":4,"x":4.17,"y":0.48},{"g":4,"x":5.0,"y":0.27},{"g":4,"x":4.05,"y":0.18},{"g":4,"x":2.38,"y":0.16},{"g":4,"x":0.6,"y":0.16},
{"g":5,"x":0.5,"y":0.32},{"g":5,"x":0.5,"y":0.67},{"g":5,"x":0.74,"y":0.79},{"g":5,"x":2.02,"y":0.77},{"g":5,"x":3.09,"y":0.68},{"g":5,"x":3.93,"y":0.5},{"g":5,"x":4.64,"y":0.32},{"g":5,"x":3.81,"y":0.22},{"g":5,"x":2.38,"y":0.2},{"g":5,"x":0.74,"y":0.2},
{"g":6,"x":0.67,"y":0.38},{"g":6,"x":0.67,"y":0.62},{"g":6,"x":0.95,"y":0.75},{"g":6,"x":2.02,"y":0.73},{"g":6,"x":3.09,"y":0.65},{"g":6,"x":3.75,"y":0.52},{"g":6,"x":4.34,"y":0.37},{"g":6,"x":3.57,"y":0.27},{"g":6,"x":2.38,"y":0.25},{"g":6,"x":0.95,"y":0.25},
{"g":7,"x":0.89,"y":0.44},{"g":7,"x":0.89,"y":0.57},{"g":7,"x":1.19,"y":0.71},{"g":7,"x":2.14,"y":0.7},{"g":7,"x":3.09,"y":0.63},{"g":7,"x":4.11,"y":0.42},{"g":7,"x":3.45,"y":0.32},{"g":7,"x":2.38,"y":0.3},{"g":7,"x":1.19,"y":0.31},
{"g":8,"x":1.19,"y":0.51},{"g":8,"x":1.55,"y":0.66},{"g":8,"x":2.38,"y":0.68},{"g":8,"x":3.33,"y":0.6},{"g":8,"x":3.93,"y":0.47},{"g":8,"x":3.33,"y":0.37},{"g":8,"x":2.38,"y":0.35},{"g":8,"x":1.55,"y":0.37},
{"g":9,"x":1.84,"y":0.53},{"g":9,"x":2.14,"y":0.63},{"g":9,"x":2.74,"y":0.65},{"g":9,"x":3.33,"y":0.63},{"g":9,"x":3.63,"y":0.53},{"g":9,"x":3.33,"y":0.43},{"g":9,"x":2.74,"y":0.41},{"g":9,"x":2.14,"y":0.43}
],
"v5":[
{"g":1,"x":0.07,"y":0.16},{"g":1,"x":0.07,"y":0.83},{"g":1,"x":0.3,"y":0.95},{"g":1,"x":1.87,"y":0.92},{"g":1,"x":3.39,"y":0.78},{"g":1,"x":5.03,"y":0.45},{"g":1,"x":6.2,"y":0.12},{"g":1,"x":4.8,"y":0.06},{"g":1,"x":2.34,"y":0.04},{"g":1,"x":0.3,"y":0.04},
{"g":2,"x":0.14,"y":0.2},{"g":2,"x":0.14,"y":0.79},{"g":2,"x":0.37,"y":0.91},{"g":2,"x":1.87,"y":0.88},{"g":2,"x":3.28,"y":0.75},{"g":2,"x":4.68,"y":0.45},{"g":2,"x":5.73,"y":0.17},{"g":2,"x":4.45,"y":0.1},{"g":2,"x":2.34,"y":0.08},{"g":2,"x":0.37,"y":0.08},
{"g":3,"x":0.23,"y":0.24},{"g":3,"x":0.23,"y":0.75},{"g":3,"x":0.47,"y":0.87},{"g":3,"x":1.87,"y":0.84},{"g":3,"x":3.16,"y":0.73},{"g":3,"x":4.45,"y":0.46},{"g":3,"x":5.32,"y":0.22},{"g":3,"x":4.21,"y":0.14},{"g":3,"x":2.34,"y":0.12},{"g":3,"x":0.47,"y":0.12},
{"g":4,"x":0.35,"y":0.28},{"g":4,"x":0.35,"y":0.71},{"g":4,"x":0.59,"y":0.83},{"g":4,"x":1.99,"y":0.8},{"g":4,"x":3.16,"y":0.7},{"g":4,"x":4.1,"y":0.48},{"g":4,"x":4.91,"y":0.27},{"g":4,"x":3.98,"y":0.18},{"g":4,"x":2.34,"y":0.16},{"g":4,"x":0.59,"y":0.16},
{"g":5,"x":0.49,"y":0.32},{"g":5,"x":0.49,"y":0.67},{"g":5,"x":0.73,"y":0.79},{"g":5,"x":1.99,"y":0.77},{"g":5,"x":3.04,"y":0.68},{"g":5,"x":3.86,"y":0.5},{"g":5,"x":4.56,"y":0.32},{"g":5,"x":3.74,"y":0.22},{"g":5,"x":2.34,"y":0.2},{"g":5,"x":0.73,"y":0.2},
{"g":6,"x":0.66,"y":0.38},{"g":6,"x":0.66,"y":0.62},{"g":6,"x":0.94,"y":0.75},{"g":6,"x":1.99,"y":0.73},{"g":6,"x":3.04,"y":0.65},{"g":6,"x":3.69,"y":0.52},{"g":6,"x":4.27,"y":0.37},{"g":6,"x":3.51,"y":0.27},{"g":6,"x":2.34,"y":0.25},{"g":6,"x":0.94,"y":0.25},
{"g":7,"x":0.88,"y":0.44},{"g":7,"x":0.88,"y":0.57},{"g":7,"x":1.17,"y":0.71},{"g":7,"x":2.11,"y":0.7},{"g":7,"x":3.04,"y":0.63},{"g":7,"x":4.04,"y":0.42},{"g":7,"x":3.39,"y":0.32},{"g":7,"x":2.34,"y":0.3},{"g":7,"x":1.17,"y":0.31},
{"g":8,"x":1.17,"y":0.51},{"g":8,"x":1.52,"y":0.66},{"g":8,"x":2.34,"y":0.68},{"g":8,"x":3.28,"y":0.6},{"g":8,"x":3.86,"y":0.47},{"g":8,"x":3.28,"y":0.37},{"g":8,"x":2.34,"y":0.35},{"g":8,"x":1.52,"y":0.37},
{"g":9,"x":1.81,"y":0.53},{"g":9,"x":2.11,"y":0.63},{"g":9,"x":2.69,"y":0.65},{"g":9,"x":3.28,"y":0.63},{"g":9,"x":3.57,"y":0.53},{"g":9,"x":3.28,"y":0.43},{"g":9,"x":2.69,"y":0.41},{"g":9,"x":2.11,"y":0.43}
]
},
"vconcat":[
{"width":510,"height":113,"title":{"text":"Case 1","dx":5},
"encoding":{"x":{"field":"x","type":"quantitative","scale":{"domain":[-2.402,10.914],"nice":false,"zero":false},"axis":{"minExtent":36.7,"offset":-4,"values":[0,0.5,1,1.5,2,2.5,3,3.5,4,4.5,5,5.5,6,6.5,7,7.5,8,8.5,9,9.5,10],"labelExpr":"datum.value % 1 == 0 ? format(datum.value, '.1f') : ''"}},"y":{"field":"y","type":"quantitative","scale":{"domain":[0,2.95],"nice":false,"zero":false},"axis":null},"detail":{"field":"g","type":"nominal"},"order":{"value":null}},
"layer":[
{"data":{"name":"u1"},"mark":{"type":"line","interpolate":"monotone","color":"#000","strokeWidth":1.2}},
{"data":{"name":"v1"},"mark":{"type":"line","interpolate":"cardinal-closed","tension":0.3,"color":"#000","strokeWidth":1.1}},
{"data":{"name":"w"},"mark":{"type":"line","color":"#000","strokeWidth":1.3}}
]},
{"width":510,"height":113,"title":{"text":"Case 2","dx":8},
"encoding":{"x":{"field":"x","type":"quantitative","scale":{"domain":[-2.533,10.783],"nice":false,"zero":false},"axis":{"minExtent":36.7,"offset":-4,"values":[0,0.5,1,1.5,2,2.5,3,3.5,4,4.5,5,5.5,6,6.5,7,7.5,8,8.5,9,9.5,10],"labelExpr":"datum.value % 1 == 0 ? format(datum.value, '.1f') : ''"}},"y":{"field":"y","type":"quantitative","scale":{"domain":[0,2.95],"nice":false,"zero":false},"axis":null},"detail":{"field":"g","type":"nominal"},"order":{"value":null}},
"layer":[
{"data":{"name":"u2"},"mark":{"type":"line","interpolate":"monotone","color":"#000","strokeWidth":1.2}},
{"data":{"name":"v2"},"mark":{"type":"line","interpolate":"cardinal-closed","tension":0.3,"color":"#000","strokeWidth":1.1}},
{"data":{"name":"w"},"mark":{"type":"line","color":"#000","strokeWidth":1.3}}
]},
{"width":510,"height":113,"title":{"text":"Case 3","dx":13},
"encoding":{"x":{"field":"x","type":"quantitative","scale":{"domain":[-2.663,10.653],"nice":false,"zero":false},"axis":{"minExtent":32.3,"offset":-4,"values":[0,0.5,1,1.5,2,2.5,3,3.5,4,4.5,5,5.5,6,6.5,7,7.5,8,8.5,9,9.5,10],"labelExpr":"datum.value % 1 == 0 ? format(datum.value, '.1f') : ''"}},"y":{"field":"y","type":"quantitative","scale":{"domain":[0,2.95],"nice":false,"zero":false},"axis":null},"detail":{"field":"g","type":"nominal"},"order":{"value":null}},
"layer":[
{"data":{"name":"u3"},"mark":{"type":"line","interpolate":"monotone","color":"#000","strokeWidth":1.2}},
{"data":{"name":"v3"},"mark":{"type":"line","interpolate":"cardinal-closed","tension":0.3,"color":"#000","strokeWidth":1.1}},
{"data":{"name":"w"},"mark":{"type":"line","color":"#000","strokeWidth":1.3}}
]},
{"width":510,"height":113,"title":{"text":"Case 4","dx":17},
"encoding":{"x":{"field":"x","type":"quantitative","scale":{"domain":[-2.742,10.574],"nice":false,"zero":false},"axis":{"minExtent":43.7,"offset":-4,"values":[0,0.5,1,1.5,2,2.5,3,3.5,4,4.5,5,5.5,6,6.5,7,7.5,8,8.5,9,9.5,10],"labelExpr":"datum.value % 1 == 0 ? format(datum.value, '.1f') : ''"}},"y":{"field":"y","type":"quantitative","scale":{"domain":[0,2.95],"nice":false,"zero":false},"axis":null},"detail":{"field":"g","type":"nominal"},"order":{"value":null}},
"layer":[
{"data":{"name":"u4"},"mark":{"type":"line","interpolate":"monotone","color":"#000","strokeWidth":1.2}},
{"data":{"name":"v4"},"mark":{"type":"line","interpolate":"cardinal-closed","tension":0.3,"color":"#000","strokeWidth":1.1}},
{"data":{"name":"w"},"mark":{"type":"line","color":"#000","strokeWidth":1.3}}
]},
{"width":510,"height":113,"title":{"text":"Case 5","dx":21},
"encoding":{"x":{"field":"x","type":"quantitative","scale":{"domain":[-2.794,10.522],"nice":false,"zero":false},"axis":{"minExtent":26,"offset":-4,"values":[0,0.5,1,1.5,2,2.5,3,3.5,4,4.5,5,5.5,6,6.5,7,7.5,8,8.5,9,9.5,10],"labelExpr":"datum.value % 1 == 0 ? format(datum.value, '.1f') : ''"}},"y":{"field":"y","type":"quantitative","scale":{"domain":[0,2.95],"nice":false,"zero":false},"axis":null},"detail":{"field":"g","type":"nominal"},"order":{"value":null}},
"layer":[
{"data":{"name":"u5"},"mark":{"type":"line","interpolate":"monotone","color":"#000","strokeWidth":1.2}},
{"data":{"name":"v5"},"mark":{"type":"line","interpolate":"cardinal-closed","tension":0.3,"color":"#000","strokeWidth":1.1}},
{"data":{"name":"w"},"mark":{"type":"line","color":"#000","strokeWidth":1.3}}
]}
]
}
